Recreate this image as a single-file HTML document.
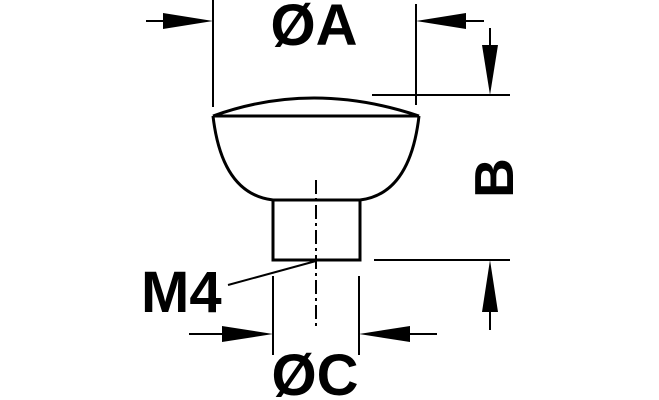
<!DOCTYPE html>
<html><head><style>body{margin:0;background:#fff}svg{display:block}</style></head><body>
<svg width="659" height="400" viewBox="0 0 659 400" xmlns="http://www.w3.org/2000/svg">
<g stroke="#000" fill="none" stroke-width="2">
<line x1="213" y1="0" x2="213" y2="107"/>
<line x1="416" y1="4" x2="416" y2="105"/>
<line x1="146" y1="21" x2="200" y2="21"/>
<line x1="430" y1="21" x2="484" y2="21"/>
<line x1="372" y1="95" x2="510" y2="95"/>
<line x1="374" y1="260" x2="510" y2="260"/>
<line x1="490" y1="28" x2="490" y2="60"/>
<line x1="490" y1="300" x2="490" y2="330"/>
<line x1="273" y1="276" x2="273" y2="355"/>
<line x1="359" y1="276" x2="359" y2="355"/>
<line x1="189" y1="334" x2="260" y2="334"/>
<line x1="372" y1="334" x2="437" y2="334"/>
<line x1="316" y1="261" x2="228" y2="285"/>
</g>
<g stroke="#000" fill="none" stroke-width="3">
<path d="M213 116 Q312 80 419 116"/>
<line x1="213" y1="116" x2="419" y2="116"/>
<path d="M213 116 Q222 194 273 200 L360 200 Q410 194 419 116"/>
<rect x="273" y="200" width="87" height="60"/>
</g>
<line x1="316" y1="180" x2="316" y2="330" stroke="#000" stroke-width="2" stroke-dasharray="14,4,3,4"/>
<g fill="#000">
<polygon points="213,21 163,13 163,29"/>
<polygon points="416,21 466,13 466,29"/>
<polygon points="490,95 482,45 498,45"/>
<polygon points="490,260 482,312 498,312"/>
<polygon points="273,334 222,326 222,342"/>
<polygon points="359,334 410,326 410,342"/>
</g>
<g font-family="Liberation Sans, sans-serif" font-weight="bold" fill="#000">
<text x="314" y="45" font-size="58" text-anchor="middle">ØA</text>
<text x="141" y="312" font-size="58">M4</text>
<text x="315" y="395" font-size="58" text-anchor="middle">ØC</text>
<text transform="translate(513,178) rotate(-90)" font-size="55" text-anchor="middle">B</text>
</g>
</svg>
</body></html>
